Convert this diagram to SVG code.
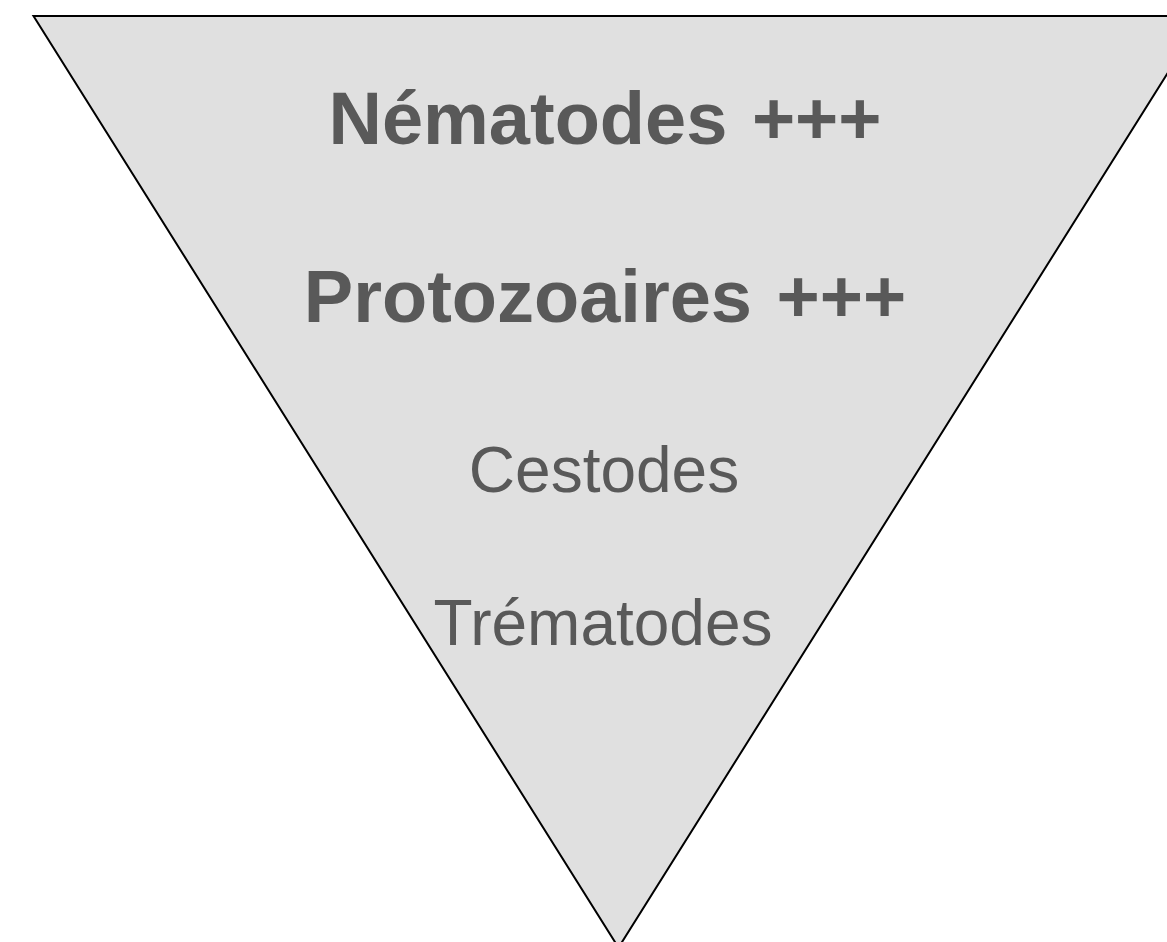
<svg xmlns="http://www.w3.org/2000/svg" width="1167" height="942" viewBox="0 0 1167 942">
<style>
.t{font-family:"Liberation Sans",Arial,sans-serif;fill:#595959;text-anchor:middle}
.b{font-weight:bold;font-size:74px;word-spacing:4px}
.r{font-size:64px}
</style>
<rect width="1167" height="942" fill="#fff"/>
<g id="triangle">
<polygon points="33.5,16 1203.5,16 618.5,947.6" fill="#e0e0e0" stroke="#000" stroke-width="2"/>
</g>
<g id="nematodes"><text class="t b" x="605" y="144">Nématodes +++</text></g>
<g id="protozoaires"><text class="t b" x="605" y="322">Protozoaires +++</text></g>
<g id="cestodes"><text class="t r" x="604" y="492">Cestodes</text></g>
<g id="trematodes"><text class="t r" x="603" y="645">Trématodes</text></g>
<g id="connectors"/>
</svg>
